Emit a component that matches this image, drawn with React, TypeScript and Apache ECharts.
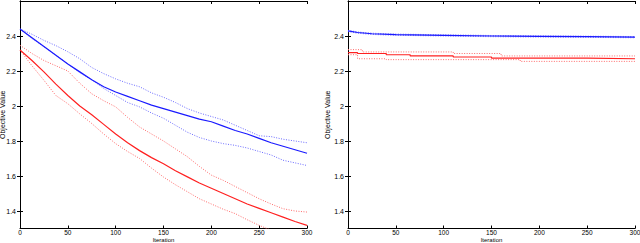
import React, { useEffect, useRef } from "react";
import * as echarts from "echarts";

// Left panel
const L_X = [0, 12.5, 25, 37.5, 50, 62.5, 75, 87.5, 100, 112.5, 125, 137.5, 150, 162.5, 175, 187.5, 200, 212.5, 225, 237.5, 250, 262.5, 275, 287.5, 300];
const L_BLUE_MEAN = [2.44, 2.39, 2.34, 2.29, 2.24, 2.195, 2.15, 2.11, 2.08, 2.055, 2.03, 2.005, 1.985, 1.965, 1.945, 1.925, 1.91, 1.885, 1.86, 1.84, 1.815, 1.79, 1.77, 1.75, 1.73];
const L_BLUE_UP = [2.44, 2.41, 2.375, 2.345, 2.31, 2.27, 2.22, 2.185, 2.155, 2.13, 2.11, 2.075, 2.05, 2.02, 1.985, 1.96, 1.94, 1.92, 1.89, 1.86, 1.83, 1.825, 1.81, 1.8, 1.79];
const L_BLUE_LO = [2.44, 2.385, 2.34, 2.29, 2.24, 2.19, 2.15, 2.1, 2.06, 2.02, 1.995, 1.96, 1.93, 1.89, 1.85, 1.82, 1.8, 1.785, 1.775, 1.76, 1.74, 1.72, 1.69, 1.675, 1.66];
const L_RED_MEAN = [2.32, 2.26, 2.195, 2.125, 2.06, 2.0, 1.95, 1.895, 1.84, 1.79, 1.745, 1.705, 1.67, 1.63, 1.595, 1.56, 1.53, 1.5, 1.47, 1.44, 1.415, 1.39, 1.365, 1.34, 1.318];
const L_RED_UP = [2.347, 2.3, 2.26, 2.23, 2.2, 2.13, 2.07, 2.03, 1.995, 1.935, 1.88, 1.84, 1.8, 1.755, 1.71, 1.655, 1.605, 1.575, 1.54, 1.505, 1.47, 1.44, 1.413, 1.4, 1.394];
const L_RED_LO = [2.32, 2.23, 2.147, 2.06, 2.013, 1.955, 1.9, 1.84, 1.785, 1.74, 1.7, 1.645, 1.594, 1.55, 1.51, 1.47, 1.44, 1.41, 1.385, 1.35, 1.318, 1.29, 1.27, 1.25, 1.23];

// Right panel (step changes)
const R_BLUE_X = [0, 10, 25, 50, 100, 150, 200, 250, 300];
const R_BLUE_MEAN = [2.429, 2.42, 2.413, 2.408, 2.404, 2.4, 2.398, 2.396, 2.394];
const R_BLUE_UP = [2.432, 2.423, 2.416, 2.411, 2.407, 2.403, 2.401, 2.399, 2.397];
const R_BLUE_LO = [2.425, 2.416, 2.409, 2.404, 2.4, 2.396, 2.394, 2.392, 2.39];
const R_RED_MEAN_X = [0, 10, 40, 65, 110, 150, 250, 300];
const R_RED_MEAN = [2.305, 2.3, 2.293, 2.286, 2.28, 2.274, 2.27, 2.27];
const R_RED_UP_X = [0, 15, 110, 160, 300];
const R_RED_UP = [2.322, 2.309, 2.3, 2.286, 2.286];
const R_RED_LO_X = [0, 10, 40, 180, 300];
const R_RED_LO = [2.293, 2.27, 2.265, 2.255, 2.255];

const Y_TICKS = [1.4, 1.6, 1.8, 2, 2.2, 2.4];

const zip = (xs: number[], ys: number[]) => xs.map((x, i) => [x, ys[i]]);

export default function App() {
  const ref = useRef<HTMLDivElement>(null);
  useEffect(() => {
    const chart = echarts.init(ref.current!, null, { renderer: "svg" });
    const font = { fontFamily: "Liberation Sans", fontSize: 7, color: "#000" };
    const frameLine = { show: true, lineStyle: { color: "#000", width: 1 } };
    const tick = { show: true, inside: true, length: 3, lineStyle: { color: "#000" } };
    const grids = [
      { left: 20, right: 333, top: 1, bottom: 14.5, outerBoundsMode: "none", containLabel: false },
      { left: 348, right: 5, top: 1, bottom: 14.5, outerBoundsMode: "none", containLabel: false },
    ];
    const xAxes: any[] = [];
    const yAxes: any[] = [];
    [0, 1].forEach((g) => {
      xAxes.push({
        type: "value", gridIndex: g, min: 0, max: 300, interval: 50, position: "bottom",
        axisLine: frameLine, axisTick: tick, splitLine: { show: false },
        axisLabel: { ...font, fontSize: 6.5, lineHeight: 6.5, margin: 1 },
        name: "Iteration", nameLocation: "middle", nameGap: 14.5, nameMoveOverlap: false,
        nameTextStyle: { fontFamily: "Liberation Sans", fontSize: 6, lineHeight: 6, color: "#000000", verticalAlign: "bottom" },
      });
      xAxes.push({
        type: "value", gridIndex: g, min: 0, max: 300, interval: 50, position: "top",
        axisLine: frameLine, axisTick: tick, splitLine: { show: false }, axisLabel: { show: false },
      });
      yAxes.push({
        type: "value", gridIndex: g, min: 1.3, max: 2.6, position: "left",
        axisLine: frameLine,
        axisTick: { ...tick, customValues: Y_TICKS },
        splitLine: { show: false },
        axisLabel: { ...font, margin: 4, customValues: Y_TICKS },
        name: "Objective Value", nameLocation: "middle", nameGap: g === 0 ? 14 : 17, nameMoveOverlap: false,
        nameTextStyle: { fontFamily: "Liberation Sans", fontSize: 7, color: "#000000" },
      });
      yAxes.push({
        type: "value", gridIndex: g, min: 1.3, max: 2.6, position: "right",
        axisLine: frameLine,
        axisTick: { ...tick, customValues: Y_TICKS },
        splitLine: { show: false }, axisLabel: { show: false },
      });
    });
    const line = (data: number[][], g: number, color: string, dotted: boolean, step?: boolean) => ({
      type: "line", xAxisIndex: g * 2, yAxisIndex: g * 2, data, showSymbol: false, symbol: "none",
      step: step ? "end" : false, clip: true,
      lineStyle: { color, width: dotted ? 1 : 1.2, type: dotted ? [1, 1.5] : "solid" },
    });
    chart.setOption({
      animation: false,
      grid: grids,
      xAxis: xAxes,
      yAxis: yAxes,
      series: [
        line(zip(L_X, L_BLUE_UP), 0, "#6b6bff", true),
        line(zip(L_X, L_BLUE_LO), 0, "#6b6bff", true),
        line(zip(L_X, L_BLUE_MEAN), 0, "#1a1aff", false),
        line(zip(L_X, L_RED_UP), 0, "#ff6b6b", true),
        line(zip(L_X, L_RED_LO), 0, "#ff6b6b", true),
        line(zip(L_X, L_RED_MEAN), 0, "#ff2020", false),
        line(zip(R_BLUE_X, R_BLUE_UP), 1, "#6b6bff", true),
        line(zip(R_BLUE_X, R_BLUE_LO), 1, "#6b6bff", true),
        line(zip(R_BLUE_X, R_BLUE_MEAN), 1, "#1a1aff", false),
        line(zip(R_RED_UP_X, R_RED_UP), 1, "#ff6b6b", true, true),
        line(zip(R_RED_LO_X, R_RED_LO), 1, "#ff6b6b", true, true),
        line(zip(R_RED_MEAN_X, R_RED_MEAN), 1, "#ff2020", false, true),
      ],
    });
    return () => chart.dispose();
  }, []);
  return <div ref={ref} style={{ width: 640, height: 243, position: "absolute", left: 0, top: 0, background: "#fff" }} />;
}
